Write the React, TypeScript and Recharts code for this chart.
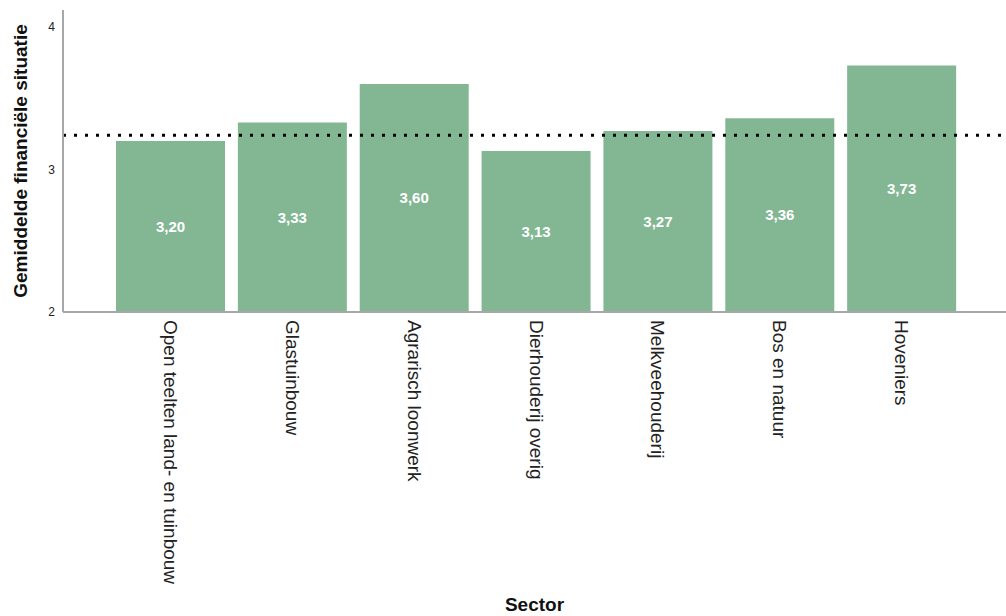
import { Bar, BarChart, LabelList, ReferenceLine, XAxis, YAxis } from 'recharts';

const sectors = [
  'Open teelten land- en tuinbouw',
  'Glastuinbouw',
  'Agrarisch loonwerk',
  'Dierhouderij overig',
  'Melkveehouderij',
  'Bos en natuur',
  'Hoveniers',
];
const averages = [3.2, 3.33, 3.6, 3.13, 3.27, 3.36, 3.73];
const overallAverage = 3.24;
const yTicks = [2, 3, 4];

const data = sectors.map((sector, i) => ({ sector, value: averages[i] }));

if (typeof document !== 'undefined') document.body.style.margin = '0';

const font = '"Liberation Sans", Arial, sans-serif';

function SectorTick({ x, y, payload }: any) {
  return (
    <text
      x={0}
      y={0}
      transform={`translate(${x - 7},${y}) rotate(90)`}
      textAnchor="start"
      fill="#222"
      fontSize={19}
      fontFamily={font}
    >
      {payload.value}
    </text>
  );
}

export default function App() {
  return (
    <BarChart width={1006} height={616} data={data} margin={{ top: 10, right: 0, bottom: 0, left: 0 }}>
      <XAxis
        dataKey="sector"
        interval={0}
        height={304}
        padding={{ left: 47, right: 43 }}
        tickLine={false}
        stroke="#a8a8a8"
        strokeWidth={2}
        tick={<SectorTick />}
        label={{
          value: 'Sector',
          position: 'insideBottom',
          offset: 5,
          fill: '#111',
          fontSize: 19,
          fontWeight: 'bold',
          fontFamily: font,
        }}
      />
      <YAxis
        domain={[2, 4.12]}
        ticks={yTicks}
        width={63}
        tickLine={false}
        stroke="#a8a8a8"
        strokeWidth={2}
        tick={{ fill: '#222', fontSize: 12, fontFamily: font }}
        label={{
          value: 'Gemiddelde financiële situatie',
          angle: -90,
          position: 'insideLeft',
          offset: 20,
          fill: '#111',
          fontSize: 19,
          fontWeight: 'bold',
          fontFamily: font,
          style: { textAnchor: 'middle' },
        }}
      />
      <Bar dataKey="value" fill="#83b794" barSize={109} isAnimationActive={false}>
        <LabelList
          dataKey="value"
          position="center"
          formatter={(v: any) => Number(v).toFixed(2).replace('.', ',')}
          fill="#fff"
          fontSize={15}
          fontWeight="bold"
          fontFamily={font}
        />
      </Bar>
      <ReferenceLine y={overallAverage} stroke="#000" strokeWidth={3} strokeDasharray="3 8" />
    </BarChart>
  );
}
